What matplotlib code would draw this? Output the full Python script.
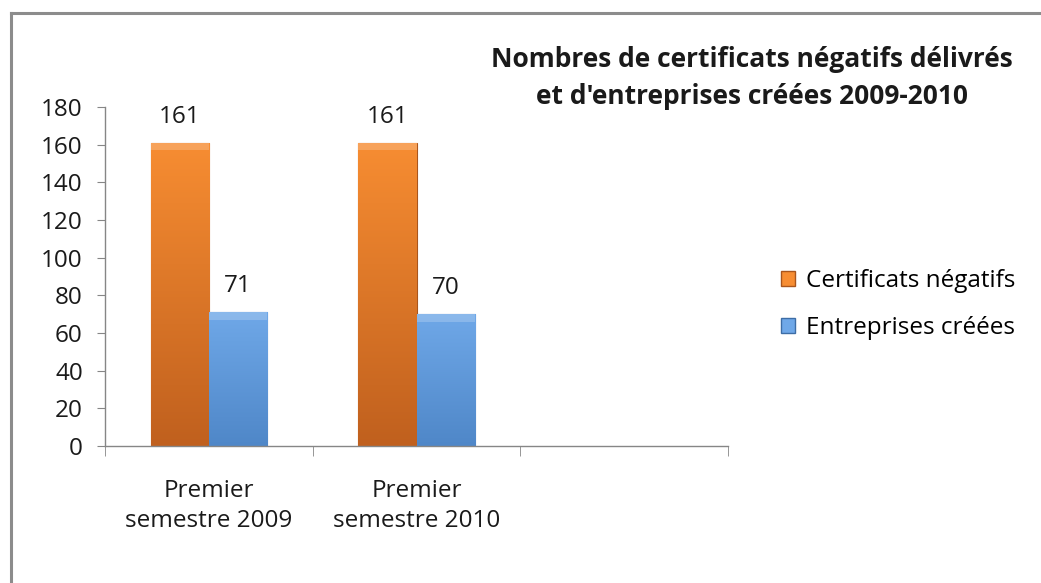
import numpy as np
import matplotlib
matplotlib.use('Agg')
import matplotlib.pyplot as plt
from matplotlib.colors import LinearSegmentedColormap
from matplotlib.lines import Line2D
from matplotlib.patches import Patch

plt.rcParams['font.family'] = ['Open Sans', 'DejaVu Sans']

categories = ['Premier\nsemestre 2009', 'Premier\nsemestre 2010', '']
certificats = [161, 161, None]
entreprises = [71, 70, None]
series_names = ['Certificats négatifs', 'Entreprises créées']
title = "Nombres de certificats négatifs délivrés\net d'entreprises créées 2009-2010"

orange_top, orange_bot, orange_edge = '#F78D32', '#C0601E', '#A9551C'
blue_top, blue_bot, blue_edge = '#6FA8E8', '#4F87C8', '#3D6DA6'

fs = 17.5

fig = plt.figure(figsize=(10.41, 5.83), dpi=100)
ax = fig.add_axes([0.1009, 0.235, 0.5984, 0.5815])

# chart frame (only top and left visible in the crop)
fig.add_artist(Line2D([0.0106, 0.0106], [0.0, 0.978], color='#8c8c8c', lw=2.2))
fig.add_artist(Line2D([0.0106, 1.0], [0.978, 0.978], color='#8c8c8c', lw=2.2))

x = np.arange(len(categories))
width = 0.28
vals1 = [v if v is not None else 0 for v in certificats]
vals2 = [v if v is not None else 0 for v in entreprises]
b1 = ax.bar(x - width / 2, vals1, width, color=orange_top, edgecolor=orange_edge, lw=0.8, zorder=2)
b2 = ax.bar(x + width / 2, vals2, width, color=blue_top, edgecolor=blue_edge, lw=0.8, zorder=2)


def shade(patch, top, bottom):
    if patch.get_height() == 0:
        patch.set_visible(False)
        return
    x0, y0 = patch.get_x(), patch.get_y()
    w, h = patch.get_width(), patch.get_height()
    grad = np.linspace(0, 1, 256).reshape(-1, 1)
    cmap = LinearSegmentedColormap.from_list('g', [bottom, top])
    im = ax.imshow(grad, extent=(x0, x0 + w, y0, y0 + h), origin='lower',
                   cmap=cmap, aspect='auto', zorder=2.5)
    im.set_clip_path(patch)
    # lighter bevel strip at the top
    ax.fill_between([x0, x0 + w], y0 + h - 4, y0 + h, color='white', alpha=0.2,
                    zorder=2.6, lw=0)


for p in b1:
    shade(p, orange_top, orange_bot)
for p in b2:
    shade(p, blue_top, blue_bot)

# data labels
for bars, vals in [(b1, certificats), (b2, entreprises)]:
    for p, v in zip(bars, vals):
        if v is None:
            continue
        ax.annotate(str(v), (p.get_x() + p.get_width() / 2, v), xytext=(0, 10),
                    textcoords='offset points', ha='center', va='bottom',
                    fontsize=fs, color='#1a1a1a')

ax.set_xlim(-0.5, 2.5)
ax.set_ylim(0, 180)
ax.set_yticks(range(0, 181, 20))
ax.set_xticks(x)
ax.set_xticklabels(categories, fontsize=fs, linespacing=1.3, color='#1a1a1a')
ax.set_xticks([-0.5, 0.5, 1.5, 2.5], minor=True)
ax.tick_params(axis='x', which='major', length=0, pad=24)
ax.tick_params(axis='x', which='minor', length=7, color='#868686', direction='out')
ax.tick_params(axis='y', length=6, color='#868686', labelsize=fs, pad=10,
               labelcolor='#1a1a1a')
for s in ['top', 'right']:
    ax.spines[s].set_visible(False)
for s in ['left', 'bottom']:
    ax.spines[s].set_color('#868686')
    ax.spines[s].set_linewidth(1)

fig.text(0.7224, 0.866, title, ha='center', va='center', fontsize=19,
         fontweight='bold', linespacing=1.5, color='#1a1a1a')

handles = [Patch(facecolor=orange_top, edgecolor=orange_edge),
           Patch(facecolor=blue_top, edgecolor=blue_edge)]
fig.legend(handles, series_names, loc='center left', bbox_to_anchor=(0.7505, 0.478),
           frameon=False, fontsize=fs, handlelength=0.55, handleheight=0.55,
           handletextpad=0.45, labelspacing=0.95, borderaxespad=0, borderpad=0)

fig.savefig('out.png', dpi=100)
